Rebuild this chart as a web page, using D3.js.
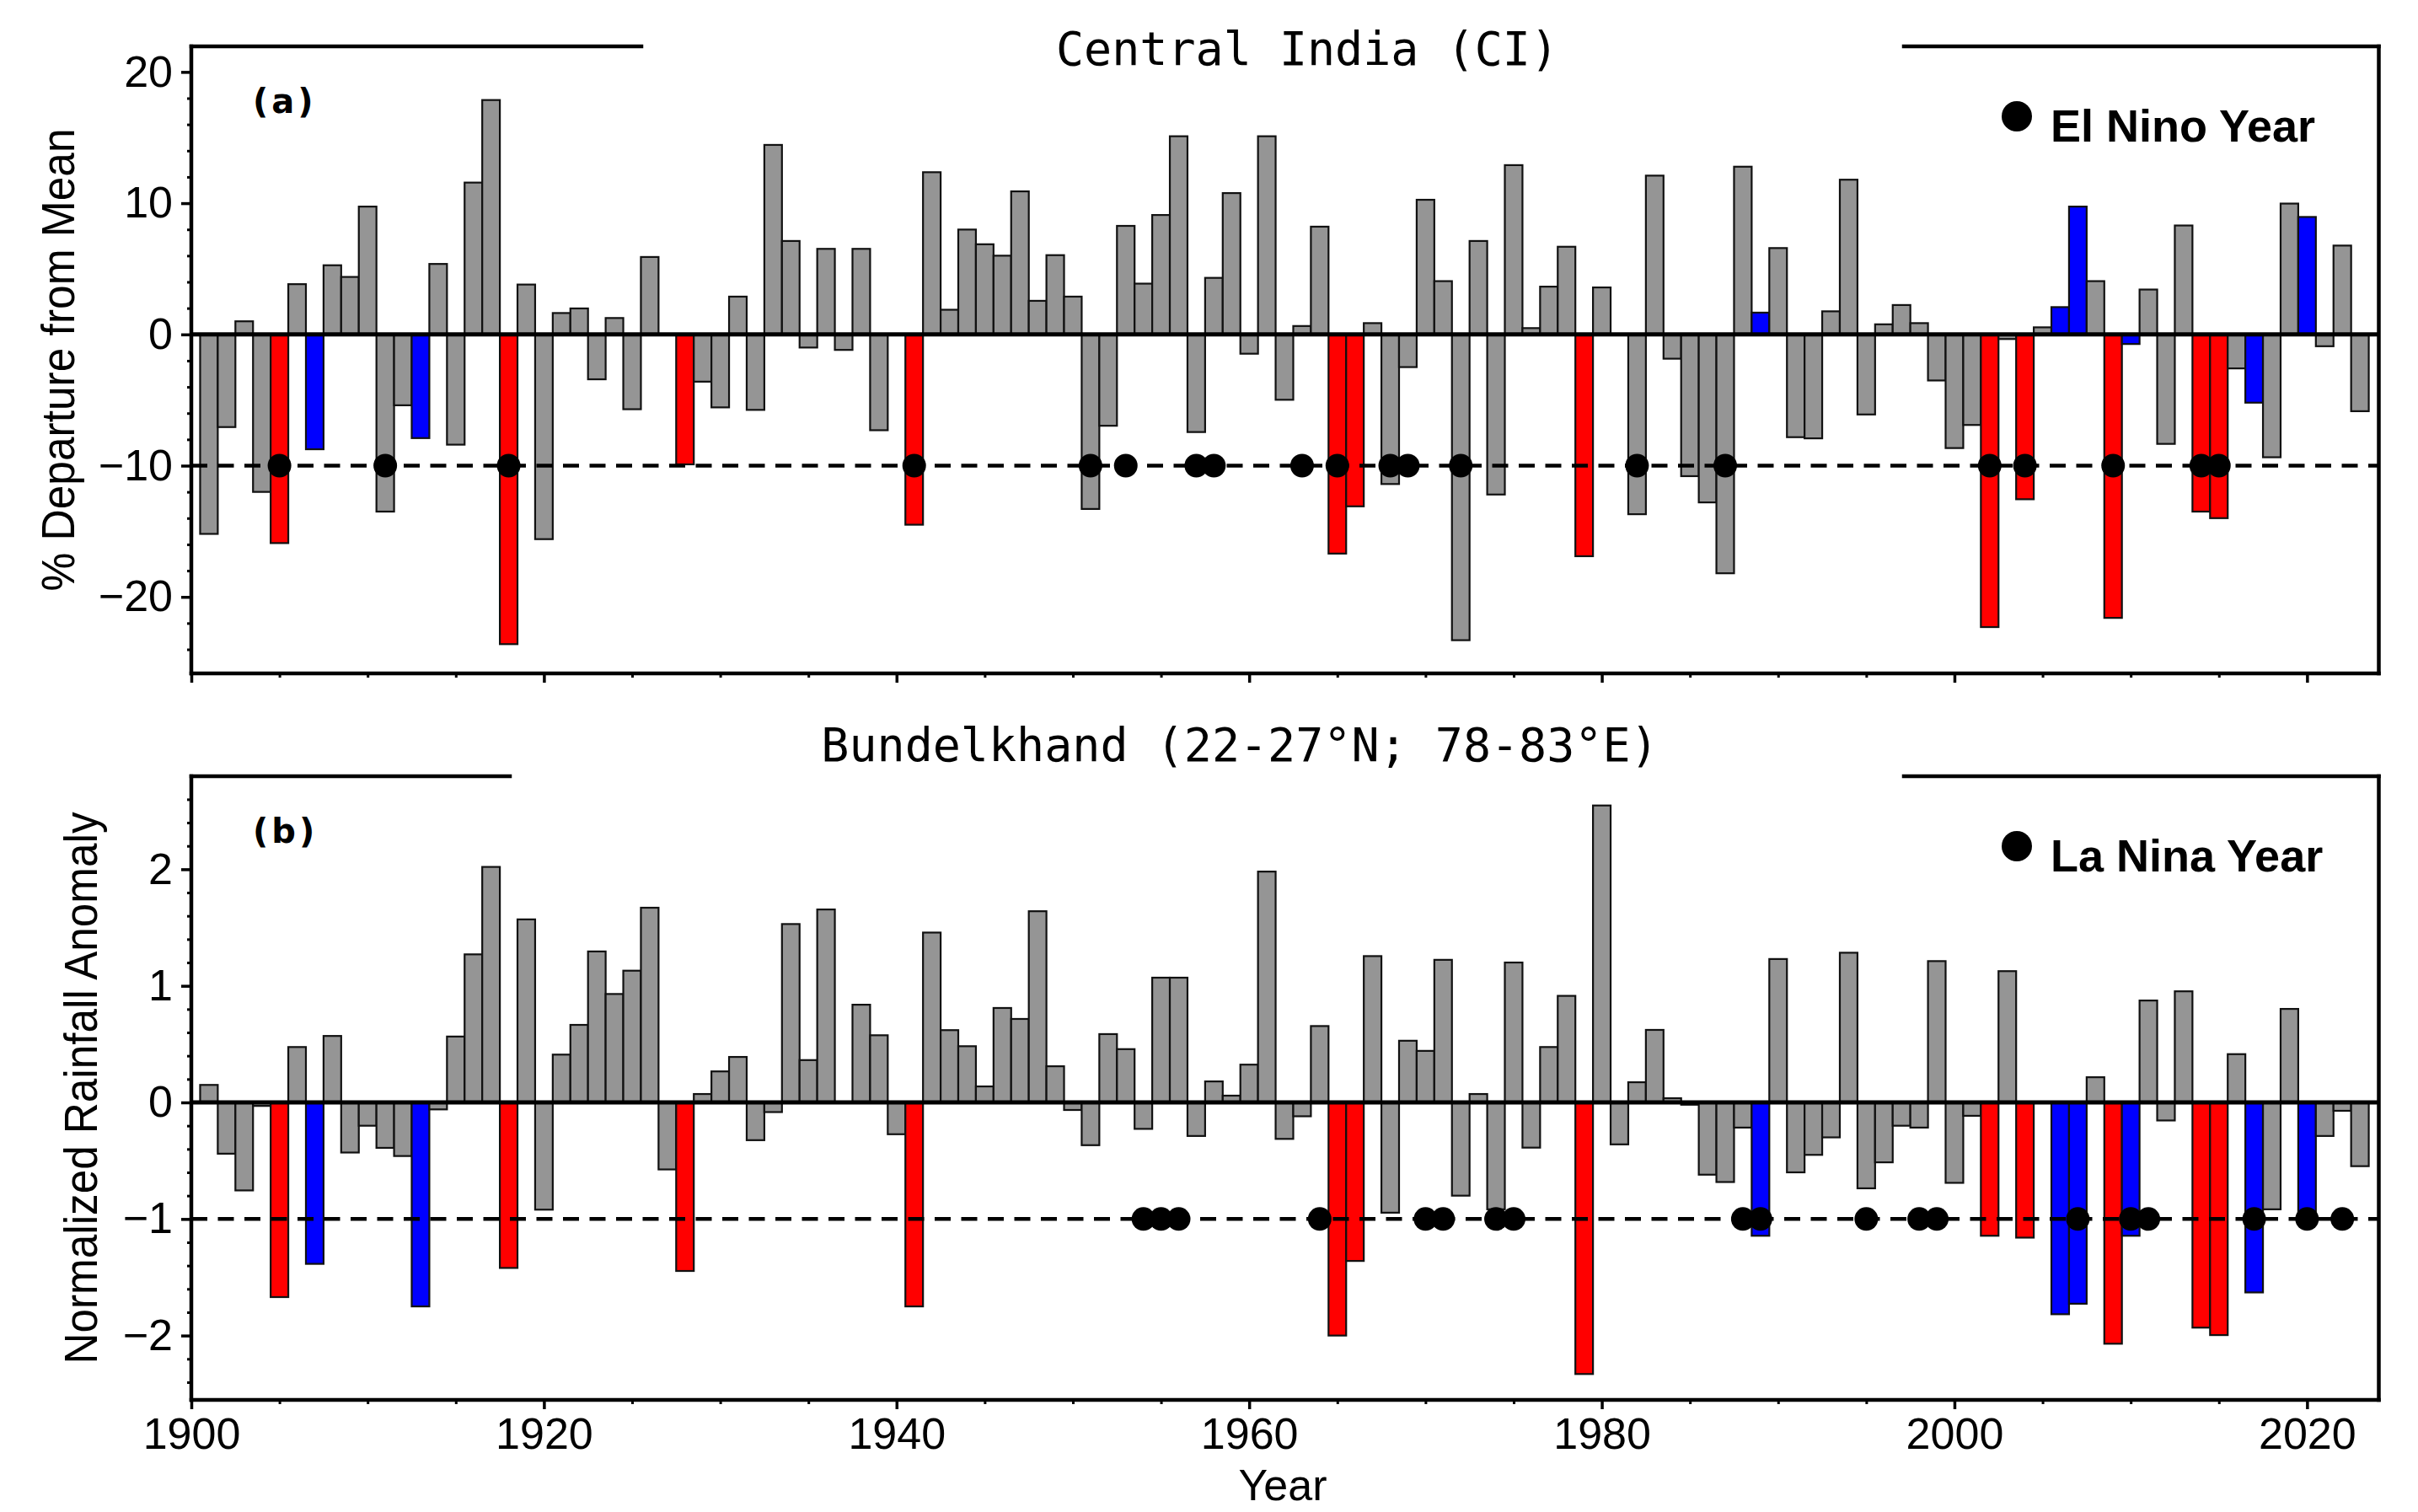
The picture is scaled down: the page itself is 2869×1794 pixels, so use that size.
<!DOCTYPE html>
<html>
<head>
<meta charset="utf-8">
<script src="https://cdn.jsdelivr.net/npm/d3@7"></script>
<style>
  body { margin: 0; background: #fff; }
  text { font-family: "Liberation Sans", Arial, sans-serif; }
</style>
</head>
<body>
<svg id="chart" width="2869" height="1794"></svg>
<script>
// years shown in both panels
const years = d3.range(1901, 2024);

// (a) Central India, % departure from mean
const ciValues = [
  -15.2, -7.06, 1.0, -12.0, -15.9, 3.83, -8.75, 5.27, 4.38, 9.74,
  -13.5, -5.4, -7.9, 5.37, -8.4, 11.57, 17.86, -23.6, 3.8, -15.6,
  1.63, 1.98, -3.42, 1.25, -5.7, 5.9, 0.0, -9.9, -3.6, -5.56,
  2.88, -5.75, 14.44, 7.12, -1.0, 6.52, -1.18, 6.52, -7.3, 0.0,
  -14.5, 12.36, 1.88, 7.99, 6.87, 6.0, 10.9, 2.56, 6.04, 2.88,
  -13.3, -6.96, 8.27, 3.87, 9.1, 15.1, -7.44, 4.31, 10.77, -1.47,
  15.1, -4.98, 0.64, 8.21, -16.7, -13.1, 0.86, -11.4, -2.49, 10.26,
  4.06, -23.3, 7.12, -12.2, 12.9, 0.48, 3.64, 6.68, -16.9, 3.58,
  0.0, -13.7, 12.1, -1.85, -10.8, -12.8, -18.2, 12.78, 1.66, 6.58,
  -7.83, -7.92, 1.76, 11.79, -6.1, 0.77, 2.24, 0.86, -3.51, -8.66,
  -6.9, -22.3, -0.35, -12.56, 0.54, 2.08, 9.74, 4.06, -21.6, -0.73,
  3.42, -8.34, 8.3, -13.5, -14.0, -2.59, -5.2, -9.36, 9.97, 8.95,
  -0.9, 6.77, -5.85
];

// (b) Bundelkhand, normalized rainfall anomaly
const bkValues = [
  0.15, -0.44, -0.755, -0.03, -1.67, 0.475, -1.385, 0.57, -0.43, -0.2,
  -0.39, -0.46, -1.75, -0.06, 0.565, 1.27, 2.02, -1.42, 1.57, -0.92,
  0.41, 0.665, 1.295, 0.93, 1.13, 1.67, -0.575, -1.446, 0.072, 0.266,
  0.39, -0.324, -0.083, 1.53, 0.363, 1.655, 0.0, 0.838, 0.576, -0.273,
  -1.75, 1.457, 0.62, 0.482, 0.137, 0.81, 0.716, 1.64, 0.31, -0.065,
  -0.367, 0.586, 0.457, -0.227, 1.07, 1.07, -0.288, 0.18, 0.058, 0.324,
  1.98, -0.313, -0.119, 0.655, -2.0, -1.36, 1.255, -0.946, 0.529, 0.442,
  1.223, -0.8, 0.072, -0.917, 1.2, -0.388, 0.475, 0.914, -2.33, 2.547,
  -0.36, 0.173, 0.622, 0.036, -0.02, -0.62, -0.683, -0.216, -1.144, 1.23,
  -0.6, -0.45, -0.3, 1.284, -0.737, -0.514, -0.2, -0.216, 1.212, -0.69,
  -0.115, -1.144, 1.126, -1.16, 0.0, -1.817, -1.727, 0.216, -2.07, -1.144,
  0.874, -0.155, 0.953, -1.932, -1.996, 0.414, -1.63, -0.917, 0.802, -1.007,
  -0.288, -0.072, -0.547
];

const redYears = [1905, 1918, 1928, 1941, 1965, 1966, 1979, 2002, 2004, 2009, 2014, 2015];
const blueYears = [1907, 1913, 1989, 2006, 2007, 2010, 2017, 2020];
const elNinoYears = [1905, 1911, 1918, 1941, 1951, 1953, 1957, 1958, 1963, 1965, 1968, 1969,
  1972, 1982, 1987, 2002, 2004, 2009, 2014, 2015];
const laNinaYears = [1954, 1955, 1956, 1964, 1970, 1971, 1974, 1975, 1988, 1989, 1995, 1998,
  1999, 2007, 2010, 2011, 2017, 2020, 2022];

const xTicks = [1900, 1920, 1940, 1960, 1980, 2000, 2020];
const xMinor = d3.range(1905, 2025, 5).filter(d => d % 20 !== 0);

const svg = d3.select("#chart");
const left = 227, right = 2822.5;
const x = d3.scaleLinear().domain([1900, 2024.07]).range([left, right]);
const barW = x(1901) - x(1900);

function barColor(yr) {
  if (redYears.includes(yr)) return "#ff0000";
  if (blueYears.includes(yr)) return "#0000ff";
  return "#959595";
}

function panel(cfg) {
  const y = d3.scaleLinear().domain(cfg.domain).range([cfg.bottom, cfg.top]);
  const g = svg.append("g");

  // bars
  g.selectAll("rect.bar")
    .data(years)
    .join("rect")
    .attr("class", "bar")
    .attr("x", d => x(d - 0.5))
    .attr("width", barW)
    .attr("y", (d, i) => y(Math.max(0, cfg.values[i])))
    .attr("height", (d, i) => Math.abs(y(cfg.values[i]) - y(0)))
    .attr("fill", barColor)
    .attr("stroke", "#111")
    .attr("stroke-width", 2.2);

  // zero line and threshold
  g.append("line")
    .attr("x1", left).attr("x2", right)
    .attr("y1", y(0)).attr("y2", y(0))
    .attr("stroke", "#000").attr("stroke-width", 5);

  g.append("line")
    .attr("x1", left).attr("x2", right)
    .attr("y1", y(cfg.dash)).attr("y2", y(cfg.dash))
    .attr("stroke", "#000").attr("stroke-width", 4.5)
    .attr("stroke-dasharray", "19,12.5");

  // ENSO markers
  g.selectAll("circle.enso")
    .data(cfg.dots)
    .join("circle")
    .attr("class", "enso")
    .attr("cx", d => x(d))
    .attr("cy", y(cfg.dash))
    .attr("r", 14)
    .attr("fill", "#000");

  // y axis
  const yAxis = g.append("g")
    .attr("transform", `translate(${left},0)`)
    .call(d3.axisLeft(y).tickValues(cfg.yTicks).tickSize(12).tickPadding(10)
      .tickSizeOuter(0).tickFormat(d3.format("d")));
  yAxis.select(".domain").remove();
  yAxis.selectAll("line").attr("stroke-width", 3.5);
  yAxis.selectAll("text").attr("font-size", 52).attr("font-family", "Liberation Sans, Arial, sans-serif");

  const yMinor = g.append("g")
    .attr("transform", `translate(${left},0)`)
    .call(d3.axisLeft(y).tickValues(cfg.yMinor).tickSize(5).tickFormat(""));
  yMinor.select(".domain").remove();
  yMinor.selectAll("line").attr("stroke-width", 3);

  // x axis
  const xAxis = g.append("g")
    .attr("transform", `translate(0,${cfg.bottom})`)
    .call(d3.axisBottom(x).tickValues(xTicks).tickSize(11).tickPadding(10)
      .tickFormat(cfg.xLabels ? d3.format("d") : ""));
  xAxis.select(".domain").remove();
  xAxis.selectAll("line").attr("stroke-width", 3.5);
  xAxis.selectAll("text").attr("font-size", 52).attr("font-family", "Liberation Sans, Arial, sans-serif");

  const xMin = g.append("g")
    .attr("transform", `translate(0,${cfg.bottom})`)
    .call(d3.axisBottom(x).tickValues(xMinor).tickSize(5).tickFormat(""));
  xMin.select(".domain").remove();
  xMin.selectAll("line").attr("stroke-width", 3);

  // frame with a gap in the top edge for the title
  const frame = [
    [left, cfg.top, cfg.gapL, cfg.top],
    [cfg.gapR, cfg.top, right, cfg.top],
    [left, cfg.top, left, cfg.bottom],
    [right, cfg.top, right, cfg.bottom],
    [left, cfg.bottom, right, cfg.bottom]
  ];
  g.selectAll("line.frame")
    .data(frame)
    .join("line")
    .attr("class", "frame")
    .attr("x1", d => d[0]).attr("y1", d => d[1])
    .attr("x2", d => d[2]).attr("y2", d => d[3])
    .attr("stroke", "#000")
    .attr("stroke-width", 4.5)
    .attr("stroke-linecap", "square");

  // panel title
  g.append("text")
    .attr("x", cfg.titleX)
    .attr("y", cfg.titleY)
    .attr("text-anchor", "middle")
    .style("font-family", "'DejaVu Sans Mono', monospace")
    .attr("font-size", 55)
    .text(cfg.title);

  // panel letter
  g.append("text")
    .attr("x", 300)
    .attr("y", cfg.top + 79)
    .style("font-family", "'DejaVu Sans', Verdana, sans-serif")
    .attr("font-weight", "bold")
    .attr("font-size", 40)
    .attr("letter-spacing", 4)
    .text(cfg.letter);

  // legend
  g.append("circle")
    .attr("cx", 2393)
    .attr("cy", cfg.top + 83)
    .attr("r", 18)
    .attr("fill", "#000");
  g.append("text")
    .attr("x", 2433)
    .attr("y", cfg.top + 113)
    .attr("font-weight", "bold")
    .attr("font-size", 54)
    .text(cfg.legend);

  // y axis title (condensed face)
  g.append("text")
    .attr("transform", `translate(${cfg.yTitleX},${(cfg.top + cfg.bottom) / 2}) rotate(-90)`)
    .attr("text-anchor", "middle")
    .attr("font-size", 56)
    .attr("textLength", cfg.yTitleLen)
    .attr("lengthAdjust", "spacingAndGlyphs")
    .text(cfg.yTitle);
}

panel({
  values: ciValues,
  dots: elNinoYears,
  domain: [-25.83, 21.95],
  top: 55,
  bottom: 799,
  dash: -10,
  yTicks: [-20, -10, 0, 10, 20],
  yMinor: d3.range(-24, 22, 2).filter(d => d % 10 !== 0),
  xLabels: false,
  gapL: 761,
  gapR: 2259,
  title: "Central India (CI)",
  titleX: 1551,
  titleY: 77,
  letter: "(a)",
  legend: "El Nino Year",
  yTitle: "% Departure from Mean",
  yTitleX: 88,
  yTitleLen: 549
});

panel({
  values: bkValues,
  dots: laNinaYears,
  domain: [-2.552, 2.798],
  top: 921,
  bottom: 1661,
  dash: -1,
  yTicks: [-2, -1, 0, 1, 2],
  yMinor: d3.range(-2.4, 2.8, 0.2).map(d => Math.round(d * 10) / 10).filter(d => Math.abs(d - Math.round(d)) > 0.01),
  xLabels: true,
  gapL: 605,
  gapR: 2259,
  title: "Bundelkhand (22-27°N; 78-83°E)",
  titleX: 1471,
  titleY: 903,
  letter: "(b)",
  legend: "La Nina Year",
  yTitle: "Normalized Rainfall Anomaly",
  yTitleX: 115,
  yTitleLen: 655
});

// x axis title
svg.append("text")
  .attr("x", 1522)
  .attr("y", 1780)
  .attr("text-anchor", "middle")
  .attr("font-size", 52)
  .text("Year");
</script>
</body>
</html>
